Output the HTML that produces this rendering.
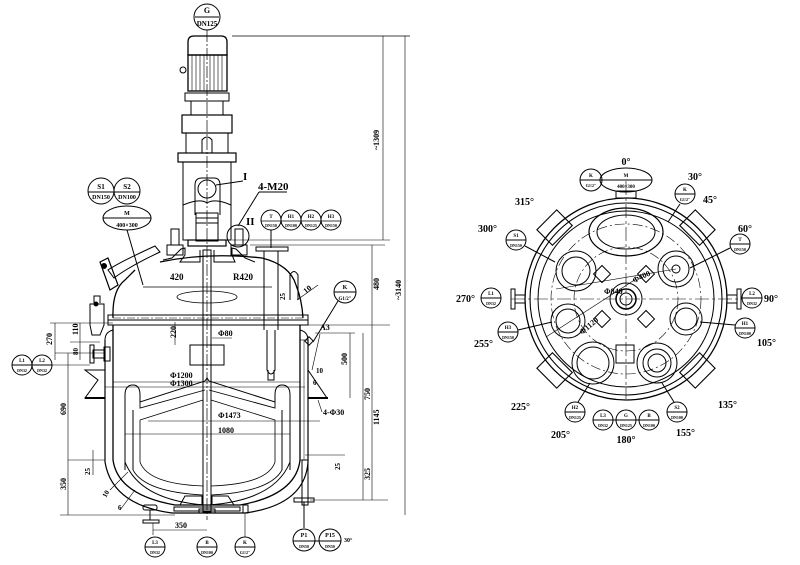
<!DOCTYPE html>
<html><head><meta charset="utf-8"><style>
html,body{margin:0;padding:0;background:#fff;}
svg{display:block;}
text{font-family:"Liberation Serif",serif;font-weight:bold;fill:#000;}
</style></head><body>
<svg width="800" height="565" viewBox="0 0 800 565" xmlns="http://www.w3.org/2000/svg" stroke="#000" fill="none" stroke-width="1">
<!-- ===== LEFT ELEVATION ===== -->
<circle cx="207" cy="17" r="13" fill="#fff"/>
<line x1="195" y1="17" x2="219" y2="17"/>
<text x="207" y="13" font-size="8" text-anchor="middle" stroke="none">G</text>
<text x="207" y="26" font-size="7" text-anchor="middle" stroke="none">DN125</text>
<line x1="207" y1="30" x2="207" y2="520" stroke-dasharray="12,2,2,2" stroke-width="0.7"/>
<path d="M188,55 L188,42 Q188,36 194,36 L221,36 Q227,36 227,42 L227,55 Z" stroke-width="1.3"/>
<rect x="188" y="55" width="39" height="36" stroke-width="1.3"/>
<g stroke-width="0.6">
<line x1="192" y1="55" x2="192" y2="91"/><line x1="196" y1="55" x2="196" y2="91"/><line x1="200" y1="55" x2="200" y2="91"/><line x1="204" y1="55" x2="204" y2="91"/><line x1="210" y1="55" x2="210" y2="91"/><line x1="214" y1="55" x2="214" y2="91"/><line x1="218" y1="55" x2="218" y2="91"/><line x1="222" y1="55" x2="222" y2="91"/>
</g>
<circle cx="183" cy="70" r="3"/>
<rect x="185" y="93" width="44" height="8"/>
<rect x="191" y="101" width="32" height="14"/>
<rect x="182" y="115" width="50" height="18" stroke-width="1.2"/>
<rect x="186" y="133" width="42" height="20"/>
<path d="M202,153 L202,140 Q207,134 212,140 L212,153"/>
<rect x="178" y="153" width="58" height="9" stroke-width="1.2"/>
<rect x="183" y="162" width="48" height="78"/>
<path d="M195,215 L195,185 Q195,178 202,178 L214,178 Q220,178 220,185 L220,215"/>
<circle cx="207" cy="189" r="9"/>
<line x1="216" y1="185" x2="243" y2="181"/>
<text x="243" y="180" font-size="11" stroke="none">I</text>
<path d="M183,205 Q200,198 207,203 Q215,198 231,205"/>
<rect x="196" y="213" width="22" height="28"/>
<line x1="196" y1="218" x2="218" y2="218"/><line x1="196" y1="223" x2="218" y2="223"/>
<rect x="188" y="240" width="38" height="6" stroke-width="1.2"/>
<rect x="171" y="229" width="8" height="16"/><rect x="167" y="245" width="16" height="10"/>
<rect x="235" y="229" width="8" height="16"/><rect x="231" y="245" width="16" height="10"/>
<circle cx="238" cy="236" r="11"/>
<text x="246" y="225" font-size="11" stroke="none">II</text>
<line x1="238" y1="226" x2="259" y2="192"/><line x1="259" y1="192" x2="287" y2="192"/>
<text x="258" y="190" font-size="11" stroke="none">4-M20</text>
<path d="M113,318 Q112,290 125,280 L135,270 M160,262 Q207,252 262,258 Q290,265 296,285 Q302,300 303,318" stroke-width="1.3"/>
<path d="M163,260 L172,258 L181,249 L185,248 L185,255 L180,262 L200,262 L200,250 M214,250 L214,262 L235,262 L232,255 L232,248 L236,249 L245,258 L255,262" stroke-width="1"/>
<path d="M108,270 Q120,262 155,246 L160,252 Q130,266 114,278 Z" stroke-width="1"/>
<path d="M100,262 L108,258 L118,285 L110,290 Z" stroke-width="1.2"/>
<circle cx="104" cy="266" r="2.5" fill="#000"/>
<circle cx="101" cy="191" r="13"/><circle cx="127" cy="191" r="13"/>
<line x1="88" y1="192" x2="114" y2="192"/><line x1="114" y1="192" x2="140" y2="192"/>
<text x="101" y="189" font-size="7" text-anchor="middle" stroke="none">S1</text><text x="101" y="199" font-size="6" text-anchor="middle" stroke="none">DN150</text>
<text x="127" y="189" font-size="7" text-anchor="middle" stroke="none">S2</text><text x="127" y="199" font-size="6" text-anchor="middle" stroke="none">DN100</text>
<ellipse cx="127" cy="218" rx="24" ry="12"/><line x1="103" y1="218" x2="151" y2="218"/>
<text x="127" y="215" font-size="6" text-anchor="middle" stroke="none">M</text><text x="127" y="227" font-size="6" text-anchor="middle" stroke="none">400×300</text>
<line x1="127" y1="230" x2="143" y2="285"/>
<circle cx="271" cy="220" r="10"/><circle cx="291" cy="220" r="10"/><circle cx="311" cy="220" r="10"/><circle cx="331" cy="220" r="10"/>
<line x1="261" y1="221" x2="341" y2="221" stroke-width="0.7"/>
<text x="271" y="218" font-size="5" text-anchor="middle" stroke="none">T</text><text x="291" y="218" font-size="5" text-anchor="middle" stroke="none">H1</text><text x="311" y="218" font-size="5" text-anchor="middle" stroke="none">H2</text><text x="331" y="218" font-size="5" text-anchor="middle" stroke="none">H3</text>
<text x="271" y="227" font-size="4" text-anchor="middle" stroke="none">DN150</text><text x="291" y="227" font-size="4" text-anchor="middle" stroke="none">DN100</text><text x="311" y="227" font-size="4" text-anchor="middle" stroke="none">DN125</text><text x="331" y="227" font-size="4" text-anchor="middle" stroke="none">DN150</text>
<line x1="271" y1="230" x2="271" y2="248"/>
<rect x="256" y="247" width="32" height="4"/>
<line x1="264" y1="251" x2="264" y2="330"/><line x1="278" y1="251" x2="278" y2="330"/>
<path d="M267,330 L267,370 Q271,378 275,370 L275,330"/>
<path d="M268,370 L268,380 L274,380 L274,370"/>
<path d="M290,300 L290,275 Q294,268 298,275 L298,300"/>
<line x1="143" y1="287" x2="272" y2="287" stroke-width="0.7"/>
<text x="170" y="280" font-size="9" stroke="none">420</text><text x="233" y="280" font-size="9" stroke="none">R420</text>
<ellipse cx="207" cy="297" rx="30" ry="6" stroke-width="0.8"/>
<text x="285" y="300" font-size="7" stroke="none" transform="rotate(-90 285 300)">25</text>
<text x="306" y="294" font-size="8" stroke="none" transform="rotate(-40 306 294)">10</text>
<line x1="297" y1="300" x2="318" y2="285" stroke-width="0.6"/>
<rect x="108" y="315" width="200" height="5" stroke-width="1"/>
<rect x="108" y="320" width="200" height="5" stroke-width="1"/>
<line x1="113" y1="318" x2="303" y2="318" stroke-dasharray="8,2,2,2" stroke-width="0.6"/>
<path d="M94,303 L94,296 L100,296 L100,303 M90,304 L104,304 L104,325 L100,335 L92,335 L90,325 Z" stroke-width="1"/>
<circle cx="96" cy="304" r="2" fill="#000"/>
<path d="M113,325 L113,460 Q118,495 175,505 L240,505 Q296,495 300,460 L300,325" stroke-width="1.3"/>
<path d="M105,340 L105,462 Q112,505 172,513 L245,513 Q305,505 308,462 L308,340" stroke-width="1.2"/>
<path d="M105,340 Q105,332 113,330 M308,340 Q308,332 300,330" stroke-width="1"/>
<path d="M180,505 L185,496 L202,496 L202,505 M212,505 L212,496 L228,496 L234,505"/>
<rect x="174" y="507" width="66" height="4" stroke-width="1"/>
<rect x="199" y="509" width="16" height="4"/>
<rect x="143" y="505" width="14" height="5" rx="2"/>
<line x1="150" y1="510" x2="150" y2="520"/><rect x="143" y="520" width="16" height="3"/>
<rect x="243" y="505" width="5" height="8"/>
<rect x="300" y="340" width="8" height="120" stroke-width="0.6"/>
<line x1="304" y1="340" x2="304" y2="460" stroke-width="0.5"/>
<rect x="302" y="460" width="6" height="45"/>
<rect x="294" y="498" width="20" height="4"/>
<line x1="304" y1="502" x2="304" y2="528"/>
<rect x="104" y="347" width="6" height="14"/>
<rect x="93" y="350" width="12" height="8"/><rect x="90" y="345" width="4" height="18"/>
<path d="M85,370 L105,370 L105,398 L85,398 L98,380 Z"/>
<line x1="85" y1="398" x2="105" y2="398" stroke-width="2"/>
<path d="M308,370 L327,398 L308,398 Z"/>
<line x1="308" y1="398" x2="328" y2="398" stroke-width="2"/>
<rect x="203" y="250" width="8" height="262" stroke-width="1"/>
<rect x="190" y="345" width="34" height="20"/>
<path d="M125,470 L125,395 Q125,385 133,385 Q140,385 140,395 L140,402 L205,381 L207,378 L209,381 L275,402 L275,395 Q275,385 282,385 Q290,385 290,395 L290,470" stroke-width="1"/>
<path d="M140,395 L140,408 L205,390 M209,390 L275,408 L275,395" stroke-width="0.9"/>
<path d="M125,462 Q140,500 205,505 M209,505 Q275,500 290,462" stroke-width="1"/>
<path d="M133,470 Q145,492 203,495 M211,495 Q270,492 282,470" stroke-width="0.8"/>
<path d="M140,420 L140,462 Q148,484 203,486 M211,486 Q268,484 275,462 L275,420 L211,400 M203,400 L140,420" stroke-width="0.8"/>
<line x1="133" y1="410" x2="133" y2="470"/><line x1="282" y1="410" x2="282" y2="470"/>
<line x1="113" y1="382" x2="300" y2="382" stroke-width="0.6"/><text x="170" y="378" font-size="8" stroke="none">Φ1200</text>
<line x1="105" y1="387" x2="305" y2="387" stroke-width="0.6"/><text x="170" y="386" font-size="8" stroke="none">Φ1300</text>
<line x1="148" y1="421" x2="320" y2="421" stroke-width="0.6"/><text x="218" y="418" font-size="8" stroke="none">Φ1473</text>
<line x1="125" y1="434" x2="290" y2="434" stroke-width="0.6"/><text x="218" y="433" font-size="8" stroke="none">1080</text>
<text x="218" y="336" font-size="8" stroke="none">Φ80</text><line x1="212" y1="338" x2="232" y2="338" stroke-width="0.6"/>
<text x="176" y="338" font-size="8" stroke="none" transform="rotate(-90 176 338)">220</text>
<line x1="175" y1="322" x2="175" y2="345" stroke-width="0.6"/>
<line x1="232" y1="240" x2="390" y2="240" stroke-width="0.6"/>
<line x1="232" y1="36" x2="410" y2="36" stroke-width="0.8"/>
<line x1="383" y1="36" x2="383" y2="240" stroke-width="0.6"/>
<text x="379" y="150" font-size="8" stroke="none" transform="rotate(-90 379 150)">~1309</text>
<line x1="405" y1="36" x2="405" y2="515" stroke-width="0.6"/>
<text x="401" y="300" font-size="8" stroke="none" transform="rotate(-90 401 300)">~3140</text>
<line x1="372" y1="245" x2="372" y2="325" stroke-width="0.6"/>
<line x1="250" y1="245" x2="385" y2="245" stroke-width="0.6"/>
<text x="379" y="290" font-size="8" stroke="none" transform="rotate(-90 379 290)">480</text>
<line x1="308" y1="325" x2="390" y2="325" stroke-width="0.6"/>
<line x1="372" y1="325" x2="372" y2="500" stroke-width="0.6"/>
<text x="379" y="425" font-size="8" stroke="none" transform="rotate(-90 379 425)">1145</text>
<line x1="350" y1="333" x2="350" y2="398" stroke-width="0.6"/>
<line x1="315" y1="333" x2="355" y2="333" stroke-width="0.6"/>
<text x="347" y="365" font-size="8" stroke="none" transform="rotate(-90 347 365)">500</text>
<line x1="363" y1="333" x2="363" y2="500" stroke-width="0.6"/>
<line x1="310" y1="500" x2="388" y2="500" stroke-width="0.6"/>
<text x="370" y="400" font-size="8" stroke="none" transform="rotate(-90 370 400)">750</text>
<text x="370" y="480" font-size="8" stroke="none" transform="rotate(-90 370 480)">325</text>
<line x1="305" y1="455" x2="345" y2="455" stroke-width="0.6"/>
<text x="340" y="470" font-size="7" stroke="none" transform="rotate(-90 340 470)">25</text>
<text x="320" y="330" font-size="8" stroke="none">A3</text>
<line x1="312" y1="370" x2="320" y2="334" stroke-width="0.6"/>
<text x="316" y="373" font-size="7" stroke="none">10</text><text x="313" y="385" font-size="7" stroke="none">6</text>
<text x="323" y="415" font-size="8" stroke="none">4-Φ30</text>
<line x1="318" y1="400" x2="322" y2="412" stroke-width="0.6"/>
<circle cx="345" cy="292" r="11"/><line x1="334" y1="292" x2="356" y2="292"/>
<text x="345" y="289" font-size="6" text-anchor="middle" stroke="none">K</text><text x="345" y="300" font-size="5" text-anchor="middle" stroke="none">G1/2"</text>
<line x1="338" y1="301" x2="313" y2="342"/>
<rect x="306" y="338" width="6" height="6" transform="rotate(45 309 341)"/>
<line x1="50" y1="323" x2="113" y2="323" stroke-width="0.6"/>
<line x1="55" y1="323" x2="55" y2="360" stroke-width="0.6"/>
<text x="52" y="345" font-size="8" stroke="none" transform="rotate(-90 52 345)">270</text>
<line x1="70" y1="342" x2="100" y2="342" stroke-width="0.6"/>
<text x="78" y="335" font-size="8" stroke="none" transform="rotate(-90 78 335)">110</text>
<text x="78" y="355" font-size="7" stroke="none" transform="rotate(-90 78 355)">80</text>
<line x1="80" y1="323" x2="80" y2="360" stroke-width="0.6"/>
<line x1="55" y1="353" x2="105" y2="353" stroke-width="0.6"/>
<line x1="68" y1="353" x2="68" y2="515" stroke-width="0.6"/>
<line x1="60" y1="515" x2="175" y2="515" stroke-width="0.6"/>
<text x="66" y="415" font-size="8" stroke="none" transform="rotate(-90 66 415)">690</text>
<text x="66" y="490" font-size="8" stroke="none" transform="rotate(-90 66 490)">350</text>
<line x1="68" y1="460" x2="105" y2="460" stroke-width="0.6"/>
<line x1="93" y1="450" x2="93" y2="475" stroke-width="0.6"/>
<text x="90" y="475" font-size="7" stroke="none" transform="rotate(-90 90 475)">25</text>
<line x1="110" y1="490" x2="128" y2="472" stroke-width="0.6"/><line x1="120" y1="510" x2="135" y2="490" stroke-width="0.6"/>
<text x="106" y="498" font-size="7" stroke="none" transform="rotate(-60 106 498)">10</text>
<text x="118" y="510" font-size="7" stroke="none">6</text>
<circle cx="22" cy="365" r="10"/><circle cx="42" cy="365" r="10"/>
<line x1="12" y1="365" x2="52" y2="365"/>
<text x="22" y="362" font-size="5" text-anchor="middle" stroke="none">L1</text><text x="42" y="362" font-size="5" text-anchor="middle" stroke="none">L2</text>
<text x="22" y="372" font-size="4" text-anchor="middle" stroke="none">DN32</text><text x="42" y="372" font-size="4" text-anchor="middle" stroke="none">DN32</text>
<line x1="52" y1="365" x2="90" y2="365" stroke-width="0.6"/>
<line x1="153" y1="530" x2="207" y2="530" stroke-width="0.6"/><text x="175" y="528" font-size="8" stroke="none">350</text>
<line x1="153" y1="523" x2="153" y2="535" stroke-width="0.6"/>
<circle cx="155" cy="547" r="10"/><line x1="145" y1="547" x2="165" y2="547"/>
<text x="155" y="544" font-size="5" text-anchor="middle" stroke="none">L3</text><text x="155" y="554" font-size="4" text-anchor="middle" stroke="none">DN32</text>
<circle cx="207" cy="547" r="10"/><line x1="197" y1="547" x2="217" y2="547"/>
<text x="207" y="544" font-size="5" text-anchor="middle" stroke="none">B</text><text x="207" y="554" font-size="4" text-anchor="middle" stroke="none">DN100</text>
<circle cx="245" cy="547" r="10"/><line x1="235" y1="547" x2="255" y2="547"/>
<text x="245" y="544" font-size="5" text-anchor="middle" stroke="none">K</text><text x="245" y="554" font-size="4" text-anchor="middle" stroke="none">G1/2"</text>
<line x1="245" y1="513" x2="245" y2="537" stroke-width="0.6"/>
<circle cx="304" cy="540" r="11"/><circle cx="330" cy="540" r="11"/>
<line x1="293" y1="541" x2="341" y2="541"/>
<text x="304" y="537" font-size="6" text-anchor="middle" stroke="none">P1</text><text x="330" y="537" font-size="6" text-anchor="middle" stroke="none">P15</text>
<text x="304" y="548" font-size="4" text-anchor="middle" stroke="none">DN50</text><text x="330" y="548" font-size="4" text-anchor="middle" stroke="none">DN50</text>
<text x="344" y="542" font-size="6" stroke="none">30°</text>

<!-- ===== RIGHT PLAN ===== -->
<g transform="translate(626,299)">
<circle r="101" stroke-width="1.3"/><circle r="96" stroke-width="1.1"/><circle r="88" stroke-width="1"/>
<circle r="75" stroke-dasharray="10,3,2,3" stroke-width="0.6"/>
<circle r="52" stroke-dasharray="10,3,2,3" stroke-width="0.6"/>
<line x1="-115" y1="0" x2="115" y2="0" stroke-dasharray="14,3,3,3" stroke-width="0.6"/>
<line x1="0" y1="-118" x2="0" y2="100" stroke-dasharray="14,3,3,3" stroke-width="0.6"/>
<ellipse cx="0" cy="-67" rx="37" ry="24" stroke-width="1.2"/>
<ellipse cx="0" cy="-67" rx="29" ry="17"/>
<rect x="-10" y="-108" width="20" height="7"/>
<circle r="16" stroke-width="1"/><circle r="10" stroke-width="1.5"/><circle r="6"/>
<g stroke-width="1">
<circle cx="-50" cy="-28" r="20"/><circle cx="-50" cy="-28" r="14"/>
<circle cx="50" cy="-30" r="18"/><circle cx="50" cy="-30" r="13"/><circle cx="50" cy="-30" r="4"/>
<circle cx="-58" cy="22" r="17"/><circle cx="-58" cy="22" r="12"/>
<circle cx="60" cy="20" r="16"/><circle cx="60" cy="20" r="11"/>
<circle cx="-33" cy="64" r="21"/><circle cx="-33" cy="64" r="16"/>
<circle cx="31" cy="64" r="20"/><circle cx="31" cy="64" r="14"/><circle cx="31" cy="64" r="9"/>
<rect x="-10" y="46" width="18" height="18"/>
<rect x="-30" y="-31" width="12" height="12" transform="rotate(45 -24 -25)"/>
<rect x="14" y="-31" width="12" height="12" transform="rotate(45 20 -25)"/>
<rect x="-30" y="14" width="12" height="12" transform="rotate(45 -24 20)"/>
<rect x="14" y="14" width="12" height="12" transform="rotate(45 20 20)"/>
</g>
<g stroke-width="1.1">
<rect x="-14" y="-112" width="28" height="22" transform="rotate(-45)"/>
<rect x="-14" y="-112" width="28" height="22" transform="rotate(45)"/>
<rect x="-14" y="-112" width="28" height="22" transform="rotate(135)"/>
<rect x="-14" y="-112" width="28" height="22" transform="rotate(225)"/>
</g>
<rect x="-115" y="-10" width="4" height="20"/><line x1="-111" y1="-4" x2="-101" y2="-4"/><line x1="-111" y1="4" x2="-101" y2="4"/>
<rect x="111" y="-10" width="4" height="20"/><line x1="101" y1="-4" x2="111" y2="-4"/><line x1="101" y1="4" x2="111" y2="4"/>
<text x="-22" y="-5" font-size="8" stroke="none">Φ840</text>
<text x="8" y="-16" font-size="8" stroke="none" transform="rotate(-25 8 -16)">Φ400</text>
<text x="-44" y="36" font-size="8" stroke="none" transform="rotate(-40 -44 36)">Φ1120</text>
<line x1="-80" y1="38" x2="10" y2="-20" stroke-width="0.6"/>
<line x1="-70" y1="-10" x2="50" y2="-30" stroke-width="0.6"/>
</g>
<text x="626" y="165" text-anchor="middle" stroke="none" font-size="10">0°</text>
<text x="688" y="180" stroke="none" font-size="10">30°</text>
<text x="703" y="203" stroke="none" font-size="10">45°</text>
<text x="738" y="232" stroke="none" font-size="10">60°</text>
<text x="764" y="302" stroke="none" font-size="10">90°</text>
<text x="757" y="346" stroke="none" font-size="10">105°</text>
<text x="718" y="408" stroke="none" font-size="10">135°</text>
<text x="676" y="436" stroke="none" font-size="10">155°</text>
<text x="626" y="443" text-anchor="middle" stroke="none" font-size="10">180°</text>
<text x="551" y="438" stroke="none" font-size="10">205°</text>
<text x="511" y="410" stroke="none" font-size="10">225°</text>
<text x="474" y="347" stroke="none" font-size="10">255°</text>
<text x="456" y="302" stroke="none" font-size="10">270°</text>
<text x="478" y="232" stroke="none" font-size="10">300°</text>
<text x="515" y="205" stroke="none" font-size="10">315°</text>
<circle cx="591" cy="180" r="11"/><line x1="580" y1="180" x2="602" y2="180"/>
<text x="591" y="177" font-size="5" text-anchor="middle" stroke="none">K</text><text x="591" y="187" font-size="4" text-anchor="middle" stroke="none">G1/2"</text>
<ellipse cx="626" cy="180" rx="26" ry="12"/><line x1="600" y1="180" x2="652" y2="180"/>
<text x="626" y="177" font-size="5" text-anchor="middle" stroke="none">M</text><text x="626" y="188" font-size="5" text-anchor="middle" stroke="none">400×300</text>
<circle cx="685" cy="194" r="10"/><line x1="675" y1="194" x2="695" y2="194"/>
<text x="685" y="191" font-size="5" text-anchor="middle" stroke="none">K</text><text x="685" y="201" font-size="4" text-anchor="middle" stroke="none">G1/2"</text>
<line x1="680" y1="204" x2="668" y2="222"/>
<circle cx="740" cy="244" r="10"/><line x1="730" y1="244" x2="750" y2="244"/>
<text x="740" y="241" font-size="5" text-anchor="middle" stroke="none">T</text><text x="740" y="251" font-size="4" text-anchor="middle" stroke="none">DN150</text>
<line x1="730" y1="248" x2="690" y2="268"/>
<circle cx="516" cy="240" r="10"/><line x1="506" y1="240" x2="526" y2="240"/>
<text x="516" y="237" font-size="5" text-anchor="middle" stroke="none">S1</text><text x="516" y="247" font-size="4" text-anchor="middle" stroke="none">DN150</text>
<line x1="525" y1="246" x2="555" y2="262"/>
<circle cx="491" cy="298" r="10"/><line x1="481" y1="298" x2="501" y2="298"/>
<text x="491" y="295" font-size="5" text-anchor="middle" stroke="none">L1</text><text x="491" y="305" font-size="4" text-anchor="middle" stroke="none">DN32</text>
<circle cx="752" cy="298" r="10"/><line x1="742" y1="298" x2="762" y2="298"/>
<text x="752" y="295" font-size="5" text-anchor="middle" stroke="none">L2</text><text x="752" y="305" font-size="4" text-anchor="middle" stroke="none">DN32</text>
<circle cx="508" cy="332" r="10"/><line x1="498" y1="332" x2="518" y2="332"/>
<text x="508" y="329" font-size="5" text-anchor="middle" stroke="none">H3</text><text x="508" y="339" font-size="4" text-anchor="middle" stroke="none">DN150</text>
<line x1="518" y1="330" x2="552" y2="322"/>
<circle cx="745" cy="328" r="10"/><line x1="735" y1="328" x2="755" y2="328"/>
<text x="745" y="325" font-size="5" text-anchor="middle" stroke="none">H1</text><text x="745" y="335" font-size="4" text-anchor="middle" stroke="none">DN100</text>
<line x1="735" y1="325" x2="700" y2="322"/>
<circle cx="575" cy="412" r="10"/><line x1="565" y1="412" x2="585" y2="412"/>
<text x="575" y="409" font-size="5" text-anchor="middle" stroke="none">H2</text><text x="575" y="419" font-size="4" text-anchor="middle" stroke="none">DN125</text>
<line x1="578" y1="402" x2="590" y2="383"/>
<circle cx="677" cy="412" r="10"/><line x1="667" y1="412" x2="687" y2="412"/>
<text x="677" y="409" font-size="5" text-anchor="middle" stroke="none">S2</text><text x="677" y="419" font-size="4" text-anchor="middle" stroke="none">DN100</text>
<line x1="674" y1="402" x2="662" y2="383"/>
<circle cx="603" cy="420" r="10"/><circle cx="626" cy="420" r="10"/><circle cx="649" cy="420" r="10"/>
<line x1="593" y1="420" x2="659" y2="420"/>
<text x="603" y="417" font-size="5" text-anchor="middle" stroke="none">L3</text><text x="626" y="417" font-size="5" text-anchor="middle" stroke="none">G</text><text x="649" y="417" font-size="5" text-anchor="middle" stroke="none">B</text>
<text x="603" y="427" font-size="4" text-anchor="middle" stroke="none">DN32</text><text x="626" y="427" font-size="4" text-anchor="middle" stroke="none">DN125</text><text x="649" y="427" font-size="4" text-anchor="middle" stroke="none">DN100</text>
</svg>
</body></html>
